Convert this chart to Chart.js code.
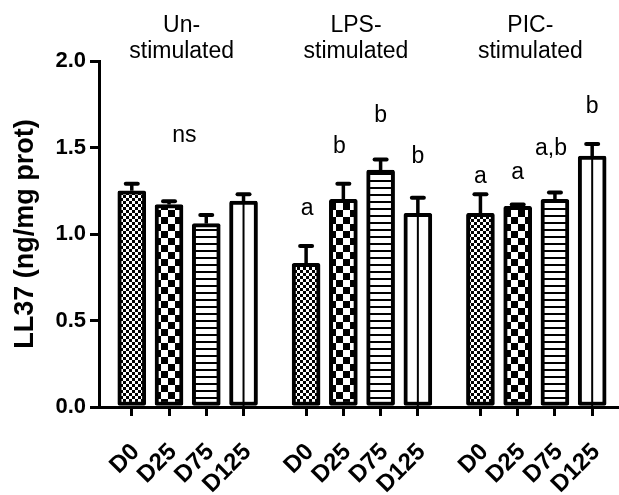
<!DOCTYPE html>
<html><head><meta charset="utf-8">
<style>html,body{margin:0;padding:0;background:#fff;} #wrap{width:619px;height:495px;position:relative;}</style>
<script src="https://cdn.jsdelivr.net/npm/chart.js"></script>
</head><body><div id="wrap"><canvas id="c" width="619" height="495"></canvas></div>
<script>
// ---- data ----
const groupLabels = [['Un-','stimulated'],['LPS-','stimulated'],['PIC-','stimulated']];
const doseLabels = ['D0','D25','D75','D125'];
const unstimMean = [1.25, 1.17, 1.06, 1.19];
const unstimErr  = [0.04, 0.02, 0.05, 0.04];
const lpsMean    = [0.83, 1.20, 1.37, 1.12];
const lpsErr     = [0.10, 0.09, 0.06, 0.09];
const picMean    = [1.12, 1.16, 1.20, 1.45];
const picErr     = [0.11, 0.01, 0.04, 0.07];
const unstimLetters = ['', '', '', ''];
const lpsLetters    = ['a', 'b', 'b', 'b'];
const picLetters    = ['a', 'a', 'a,b', 'b'];
const unstimNote = 'ns';
const yTicks = [0, 0.5, 1.0, 1.5, 2.0];

// ---- layout (not data) ----
const GROUP_STEP = 4.68;
const letterOffsets = [[0,0,0,0],[31,31,38,35],[11,26,37,31]]; // px above error cap
const letterDx = [[0,0,0,0],[1,-4,0,0],[0,0,-4,0]];
const FONT = '"Liberation Sans", Arial, sans-serif';

const means = [unstimMean, lpsMean, picMean];
const errs = [unstimErr, lpsErr, picErr];
const letters = [unstimLetters, lpsLetters, picLetters];
const positions = [];
means.forEach((m, g) => m.forEach((v, i) => positions.push(g * GROUP_STEP + i)));

function makePattern(kind) {
  const c = document.createElement('canvas');
  const x = c.getContext('2d');
  if (kind === 'fine') {
    c.width = 6; c.height = 6;
    x.fillStyle = '#fff'; x.fillRect(0,0,6,6);
    x.fillStyle = '#000'; x.fillRect(0,0,3,3); x.fillRect(3,3,3,3);
  } else if (kind === 'coarse') {
    c.width = 14; c.height = 14;
    x.fillStyle = '#fff'; x.fillRect(0,0,14,14);
    x.fillStyle = '#000'; x.fillRect(0,0,7,7); x.fillRect(7,7,7,7);
  } else if (kind === 'hlines') {
    c.width = 8; c.height = 7;
    x.fillStyle = '#fff'; x.fillRect(0,0,8,7);
    x.fillStyle = '#000'; x.fillRect(0,5,8,2);
  } else {
    c.width = 4; c.height = 4;
    x.fillStyle = '#fff'; x.fillRect(0,0,4,4);
  }
  return document.getElementById('c').getContext('2d').createPattern(c, 'repeat');
}
const patterns = [makePattern('fine'), makePattern('coarse'), makePattern('hlines'), makePattern('plain')];

const overlay = {
  id: 'overlay',
  afterDatasetsDraw(chart) {
    const ctx = chart.ctx;
    const xs = chart.scales.x, ys = chart.scales.y;
    ctx.save();
    chart.data.datasets.forEach((ds, g) => {
      const meta = chart.getDatasetMeta(g);
      meta.data.forEach((el, i) => {
        const base = ys.getPixelForValue(0);
        if (i === 3) {
          ctx.strokeStyle = '#000'; ctx.lineWidth = 2; ctx.lineCap = 'butt';
          ctx.beginPath(); ctx.moveTo(el.x, base); ctx.lineTo(el.x, el.y + 2); ctx.stroke();
        }
        const capY = ys.getPixelForValue(means[g][i] + errs[g][i]);
        ctx.strokeStyle = '#000';
        ctx.lineWidth = 3.5; ctx.lineCap = 'butt';
        ctx.beginPath(); ctx.moveTo(el.x, el.y); ctx.lineTo(el.x, capY); ctx.stroke();
        ctx.lineWidth = 4; ctx.lineCap = 'round';
        ctx.beginPath(); ctx.moveTo(el.x - 6, capY); ctx.lineTo(el.x + 6, capY); ctx.stroke();
        const t = letters[g][i];
        if (t) {
          ctx.fillStyle = '#000'; ctx.font = '23px ' + FONT;
          ctx.textAlign = 'center'; ctx.textBaseline = 'alphabetic';
          ctx.fillText(t, el.x + letterDx[g][i], capY - letterOffsets[g][i]);
        }
      });
    });
    ctx.fillStyle = '#000'; ctx.font = '23px ' + FONT;
    ctx.textAlign = 'center'; ctx.textBaseline = 'alphabetic';
    ctx.fillText(unstimNote, xs.getPixelForValue(1.41), 142);
    groupLabels.forEach((lines, g) => {
      const cx = xs.getPixelForValue(g * GROUP_STEP + 1.5) - 6;
      ctx.fillText(lines[0], cx, 32);
      ctx.fillText(lines[1], cx, 58);
    });
    ctx.restore();
  }
};

const tickFont = { family: FONT, size: 22, weight: 'bold' };
new Chart(document.getElementById('c'), {
  type: 'bar',
  data: {
    datasets: means.map((m, g) => ({
      label: groupLabels[g].join(''),
      data: m.map((v, i) => ({ x: g * GROUP_STEP + i, y: v })),
      backgroundColor: (c) => patterns[c.dataIndex],
      borderColor: '#000',
      borderWidth: 4,
      borderSkipped: false,
      borderRadius: 2,
      barThickness: 28,
      grouped: false
    }))
  },
  options: {
    responsive: false,
    animation: false,
    devicePixelRatio: 1,
    layout: { padding: { top: 61, left: 0, right: 0, bottom: 0 } },
    plugins: { legend: { display: false }, tooltip: { enabled: false } },
    scales: {
      x: {
        type: 'linear', min: -0.88, max: 13.08, offset: false,
        afterBuildTicks: (s) => { s.ticks = positions.map(v => ({ value: v })); },
        afterFit: (s) => { s.height = 88; s.paddingLeft = 0; s.paddingRight = 0; },
        ticks: { autoSkip: false, minRotation: 45, maxRotation: 45, labelOffset: 4,
                 font: { family: FONT, size: 24, weight: 'bold' }, color: '#000', padding: 22,
                 callback: (v, i) => doseLabels[i % 4] },
        grid: { display: true, offset: false, drawOnChartArea: false, drawTicks: true, tickLength: 9, lineWidth: 3, color: '#000' },
        border: { display: true, width: 3, color: '#000' }
      },
      y: {
        min: 0, max: 2,
        afterBuildTicks: (s) => { s.ticks = yTicks.map(v => ({ value: v })); },
        afterFit: (s) => { s.width = 99; },
        ticks: { font: tickFont, color: '#000', padding: 4, callback: (v) => Number(v).toFixed(1) },
        grid: { display: true, drawOnChartArea: false, drawTicks: true, tickLength: 9, lineWidth: 3, color: '#000' },
        border: { display: true, width: 3, color: '#000' },
        title: { display: true, text: 'LL37 (ng/mg prot)', color: '#000',
                 font: { family: FONT, size: 27, weight: 'bold' }, padding: { top: 9, bottom: 0 } }
      }
    }
  },
  plugins: [overlay]
});
</script>
</body></html>
